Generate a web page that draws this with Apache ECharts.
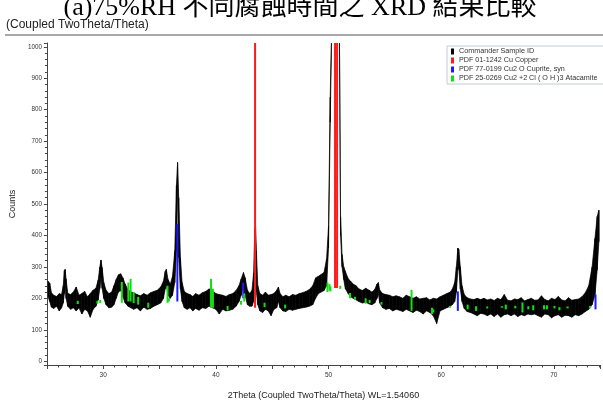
<!DOCTYPE html>
<html><head><meta charset="utf-8">
<script src="https://cdn.jsdelivr.net/npm/echarts@6/dist/echarts.min.js"></script>
<style>html,body{margin:0;padding:0;background:#fff}#c{width:603px;height:405px}</style>
</head><body><div id="c"></div>
<script>
// ---- measured XRD trace (noise band as lower / upper envelope) ----
const bandX = [25.1,25.25,25.4,25.6,25.85,26.1,26.3,26.45,26.55,26.62,26.7,26.85,27.1,27.35,27.6,27.85,28.1,28.35,28.6,28.85,29.1,29.35,29.55,29.7,29.8,29.9,30.05,30.25,30.5,30.75,30.95,31.15,31.35,31.55,31.75,31.95,32.2,32.45,32.7,33.0,33.3,33.6,33.9,34.2,34.5,34.8,35.1,35.35,35.5,35.6,35.75,35.95,36.15,36.35,36.5,36.6,36.7,36.85,37.0,37.2,37.45,37.7,37.95,38.2,38.5,38.8,39.1,39.4,39.7,40.0,40.3,40.6,40.9,41.2,41.5,41.8,42.05,42.25,42.45,42.6,42.8,43.0,43.2,43.35,43.45,43.52,43.6,43.72,43.9,44.15,44.4,44.65,44.9,45.15,45.4,45.55,45.7,45.95,46.2,46.5,46.8,47.1,47.4,47.7,48.0,48.3,48.6,48.85,49.1,49.35,49.6,49.83,50.0,50.15,50.3,50.96,51.07,51.2,51.35,51.5,51.75,51.95,52.2,52.45,52.7,53.0,53.3,53.6,53.85,54.1,54.3,54.42,54.55,54.8,55.1,55.4,55.7,56.0,56.3,56.6,56.9,57.2,57.5,57.8,58.1,58.4,58.7,59.0,59.3,59.6,59.9,60.2,60.5,60.8,61.0,61.2,61.35,61.48,61.56,61.7,61.85,62.05,62.3,62.6,62.9,63.2,63.5,63.8,64.1,64.4,64.7,65.0,65.3,65.6,65.9,66.2,66.5,66.8,67.1,67.4,67.7,68.0,68.3,68.6,68.9,69.2,69.5,69.8,70.1,70.4,70.7,71.0,71.3,71.6,71.9,72.2,72.5,72.8,73.1,73.4,73.65,73.85,74.0,74.1,74.2];
const bandLo = [205,190,172,168,175,160,170,185,215,255,200,175,165,170,160,170,150,165,160,140,165,175,195,232,272,232,200,180,170,172,180,200,220,225,205,185,175,170,165,170,160,172,165,168,175,180,185,200,230,242,210,200,210,250,350,560,330,230,190,170,165,170,160,168,162,170,168,175,170,165,150,165,160,162,165,175,190,210,240,210,180,175,175,190,300,400,220,180,160,155,165,160,145,165,170,190,170,160,158,165,162,165,168,170,172,175,180,200,215,220,225,240,360,760,1080,1080,400,300,260,230,215,205,200,195,190,185,188,182,180,185,200,215,185,170,165,168,160,165,162,158,165,160,155,162,158,150,160,155,145,120,160,165,170,175,180,190,220,290,300,230,190,168,158,155,150,145,152,150,145,150,142,150,140,148,150,145,150,142,148,145,150,148,150,145,140,150,148,138,145,148,140,146,145,140,148,145,150,158,165,180,210,290,380,440];
const bandHi = [255,248,218,210,206,215,212,240,288,292,262,216,212,220,236,210,215,222,205,215,226,232,258,300,322,298,250,226,215,220,240,260,275,278,265,245,228,220,218,212,208,215,210,218,222,226,236,255,285,292,260,245,270,350,560,632,520,330,250,222,215,212,206,215,210,218,222,230,225,215,212,210,206,212,215,225,240,262,282,265,226,215,225,280,420,430,350,240,215,210,220,210,212,215,226,236,215,205,210,205,212,210,215,218,222,228,240,265,270,276,282,326,430,840,1100,1100,460,340,300,285,262,255,245,240,230,225,232,226,220,228,245,250,226,215,212,210,205,208,205,200,210,205,200,205,198,200,202,195,200,198,205,210,215,220,230,250,300,360,356,300,240,212,202,198,196,200,196,200,195,198,193,200,196,212,194,192,198,196,202,192,196,200,194,195,208,196,192,200,196,206,195,192,202,194,196,198,205,218,240,300,390,460,480];

// ---- reference sticks ----
const cuX  = [43.48,50.58,50.76];
const cuLo = [170,233,233];
const cuHi = [1100,1100,1100];
const cupX  = [36.58,42.43,61.48,73.7];
const cupLo = [190,200,160,165];
const cupHi = [437,250,222,212];
const ataX  = [27.74,29.48,29.74,31.65,32.23,32.43,32.7,33.1,34.0,35.71,35.83,39.57,39.74,41.04,42.23,42.52,44.32,46.15,49.91,50.09,50.17,51.04,51.91,52.35,53.3,53.65,54.7,57.37,59.19,59.3,60.78,62.35,63.1,64.09,65.39,65.74,66.58,67.22,67.74,68.17,69.13,69.39,70.06,70.5,71.22,73.22];
const ataLo = [182,183,185,186,190,190,185,180,170,186,190,170,170,162,180,190,172,168,220,225,222,230,200,195,183,185,180,160,150,155,170,165,160,168,170,165,168,155,165,162,165,165,168,162,168,168];
const ataHi = [192,192,195,252,250,262,220,205,186,240,200,262,230,176,192,215,186,180,250,245,238,240,217,205,200,195,188,227,170,165,176,180,175,174,175,180,176,187,175,178,178,178,176,172,174,176];

const names = ['Commander Sample ID','PDF 01-1242 Cu Copper','PDF 77-0199 Cu2 O Cuprite, syn','PDF 25-0269 Cu2 +2 Cl ( O H )3 Atacamite'];
const colors = ['#000000','#ff1a1a','#1a1aff','#10e010'];

const segs = [];
for (let i = 1; i < bandX.length; i++) segs.push([bandX[i-1], bandLo[i-1], bandHi[i-1], bandX[i], bandLo[i], bandHi[i]]);

function stickSeries(name, xs, lo, hi, color) {
  return {
    type: 'custom', name: name, clip: true, itemStyle: {color: color},
    data: xs.map((x, i) => [x, lo[i], hi[i]]),
    renderItem: (p, api) => {
      const a = api.coord([api.value(0), api.value(1)]);
      const b = api.coord([api.value(0), api.value(2)]);
      return {type: 'line', shape: {x1: a[0], y1: a[1], x2: b[0], y2: b[1]}, style: {stroke: color, lineWidth: 2}};
    }
  };
}

const chart = echarts.init(document.getElementById('c'), null, {renderer: 'canvas'});
const sans = "'Liberation Sans', Arial, sans-serif";
chart.setOption({
  animation: false,
  backgroundColor: '#fff',
  grid: {left: 38.5, right: 0, top: 43, bottom: 34, containLabel: false},
  graphic: [
    {type: 'text', x: 300, y: 8, style: {text: '(a)75%RH 不同腐蝕時間之 XRD 結果比較', fontSize: 26, fontFamily: "'Liberation Serif','Noto Sans CJK TC',serif", align: 'center', verticalAlign: 'middle', fill: '#000'}},
    {type: 'text', x: 6, y: 24.5, style: {text: '(Coupled TwoTheta/Theta)', fontSize: 12, fontFamily: sans, align: 'left', verticalAlign: 'middle', fill: '#222'}},
    {type: 'line', shape: {x1: 5, y1: 35, x2: 603, y2: 35}, style: {stroke: '#a8a8a8', lineWidth: 2}}
  ],
  legend: {
    orient: 'vertical', left: 447, top: 46, padding: [1, 40, 1, 4], itemGap: 0,
    itemWidth: 3, itemHeight: 6, icon: 'rect', selectedMode: false,
    backgroundColor: '#fff', borderColor: '#c5cad3', borderWidth: 1,
    textStyle: {fontSize: 7.2, color: '#333', fontFamily: sans, lineHeight: 9},
    data: names
  },
  xAxis: {
    type: 'value', min: 25, max: 74.1, interval: 5,
    name: '2Theta (Coupled TwoTheta/Theta) WL=1.54060', nameLocation: 'middle', nameGap: 26,
    nameTextStyle: {fontSize: 9, color: '#222', fontFamily: sans},
    axisLine: {show: true, onZero: false, lineStyle: {color: '#444', width: 1}},
    axisTick: {show: true, length: 4, lineStyle: {color: '#444'}},
    minorTick: {show: true, splitNumber: 5, length: 2.5, lineStyle: {color: '#444'}},
    splitLine: {show: false},
    axisLabel: {fontSize: 6.5, color: '#333', margin: 7, fontFamily: sans, formatter: v => (Math.abs(v % 10) < 1e-6 ? String(v) : '')}
  },
  yAxis: {
    type: 'value', min: -12, max: 1012, splitNumber: 10,
    name: 'Counts', nameLocation: 'middle', nameRotate: 90, nameGap: 24,
    nameTextStyle: {fontSize: 9, color: '#222', fontFamily: sans},
    axisLine: {show: true, onZero: false, lineStyle: {color: '#444', width: 1}},
    axisTick: {show: true, length: 3, lineStyle: {color: '#444'}},
    minorTick: {show: true, splitNumber: 5, length: 2, lineStyle: {color: '#444'}},
    splitLine: {show: false},
    axisLabel: {fontSize: 6.3, color: '#333', margin: 5, fontFamily: sans, formatter: v => (v >= 0 && v % 100 === 0 ? String(v) : '')}
  },
  series: [
    {
      type: 'custom', name: names[0], clip: true, itemStyle: {color: colors[0]},
      data: segs,
      renderItem: (p, api) => {
        const a = api.coord([api.value(0), api.value(1)]);
        const b = api.coord([api.value(0), api.value(2)]);
        const c = api.coord([api.value(3), api.value(5)]);
        const d = api.coord([api.value(3), api.value(4)]);
        return {type: 'polygon', shape: {points: [a, b, c, d]}, style: {fill: '#000', stroke: '#000', lineWidth: 0.7}};
      }
    },
    stickSeries(names[1], cuX, cuLo, cuHi, colors[1]),
    stickSeries(names[2], cupX, cupLo, cupHi, colors[2]),
    stickSeries(names[3], ataX, ataLo, ataHi, colors[3])
  ]
});
</script>
</body></html>
